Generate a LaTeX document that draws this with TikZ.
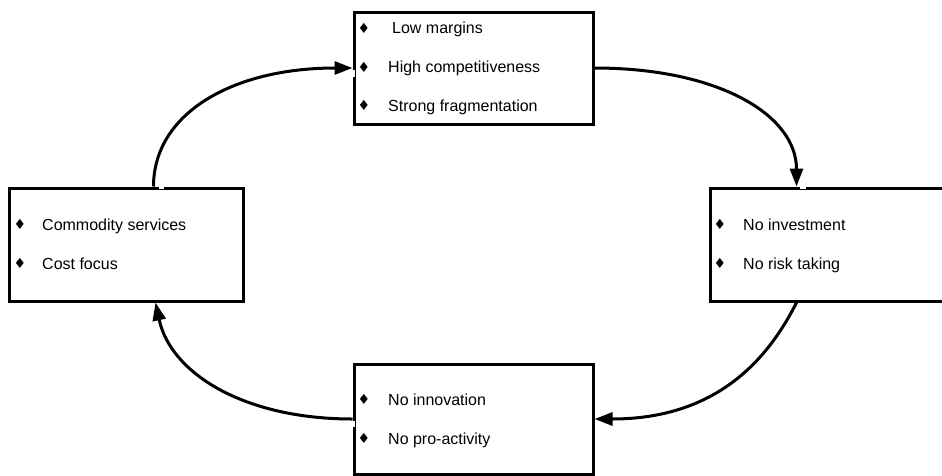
\documentclass[tikz,border=0pt]{standalone}
\usepackage{fontspec}
\setmainfont{Liberation Sans}
\newfontfamily\symfont{DejaVu Sans}
\usetikzlibrary{arrows.meta}
\begin{document}
\begin{tikzpicture}[x=1pt,y=-1pt,
  box/.style={draw=black, line width=3pt, inner sep=0pt, rectangle},
  item/.style={anchor=base west, inner sep=0pt, font=\fontsize{16}{19}\selectfont},
  bul/.style={anchor=center, inner sep=0pt, font=\symfont\fontsize{14}{16}\selectfont},
  conn/.style={line width=3pt, -{Triangle[length=18pt,width=13pt]}},
  gap/.style={fill=white, draw=none}]
\useasboundingbox (0,0) rectangle (942,475);
\clip (0,0) rectangle (942,475);
\fill[white] (0,0) rectangle (942,475);

% boxes
\node[box, minimum width=239pt, minimum height=112pt] (T) at (473.5,68) {};
\node[box, minimum width=250pt, minimum height=113pt] (R) at (835,244.5) {};
\node[box, minimum width=234pt, minimum height=113pt] (L) at (126,244.5) {};
\node[box, minimum width=239pt, minimum height=110pt] (B) at (473.5,419) {};

% top box items
\node[bul] (tb1) at (364,28) {♦};
\node[item] (tt1) at (392,33.5) {Low margins};
\node[bul] (tb2) at (364,67) {♦};
\node[item] (tt2) at (388,72.5) {High competitiveness};
\node[bul] (tb3) at (364,105.5) {♦};
\node[item] (tt3) at (388,111) {Strong fragmentation};

% right box items
\node[bul] (rb1) at (720,224.5) {♦};
\node[item] (rt1) at (743,230) {No investment};
\node[bul] (rb2) at (720,263.5) {♦};
\node[item] (rt2) at (743,269) {No risk taking};

% left box items
\node[bul] (lb1) at (20,224.5) {♦};
\node[item] (lt1) at (42,230) {Commodity services};
\node[bul] (lb2) at (20,263.5) {♦};
\node[item] (lt2) at (42,269) {Cost focus};

% bottom box items
\node[bul] (bb1) at (364,399.5) {♦};
\node[item] (bt1) at (388,405) {No innovation};
\node[bul] (bb2) at (364,438.5) {♦};
\node[item] (bt2) at (388,444) {No pro-activity};

% small gaps in the borders
\fill[gap] ([xshift=-2pt,yshift=-1.5pt]T.west) rectangle ([xshift=2pt,yshift=-9pt]T.west);
\fill[gap] ([xshift=91pt,yshift=2pt]R.north west) rectangle ([xshift=97pt,yshift=-2pt]R.north west);
\fill[gap] ([xshift=151pt,yshift=2pt]L.north west) rectangle ([xshift=156pt,yshift=-2pt]L.north west);
\fill[gap] ([xshift=-2pt,yshift=-1.5pt]B.west) rectangle ([xshift=2pt,yshift=-8pt]B.west);

% connectors
\draw[conn] ([xshift=146pt]L.north west) .. controls +(0,-73) and +(-120,0) .. (T.west);
\draw[conn] (T.east) .. controls +(123,0) and +(0,-72) .. ([xshift=88pt]R.north west);
\draw[conn] ([xshift=88pt]R.south west) .. controls +(-35,70) and +(110,0) .. (B.east);
\draw[conn] (B.west) .. controls +(-110,0) and +(15,70) .. ([xshift=148pt]L.south west);
\end{tikzpicture}
\end{document}
